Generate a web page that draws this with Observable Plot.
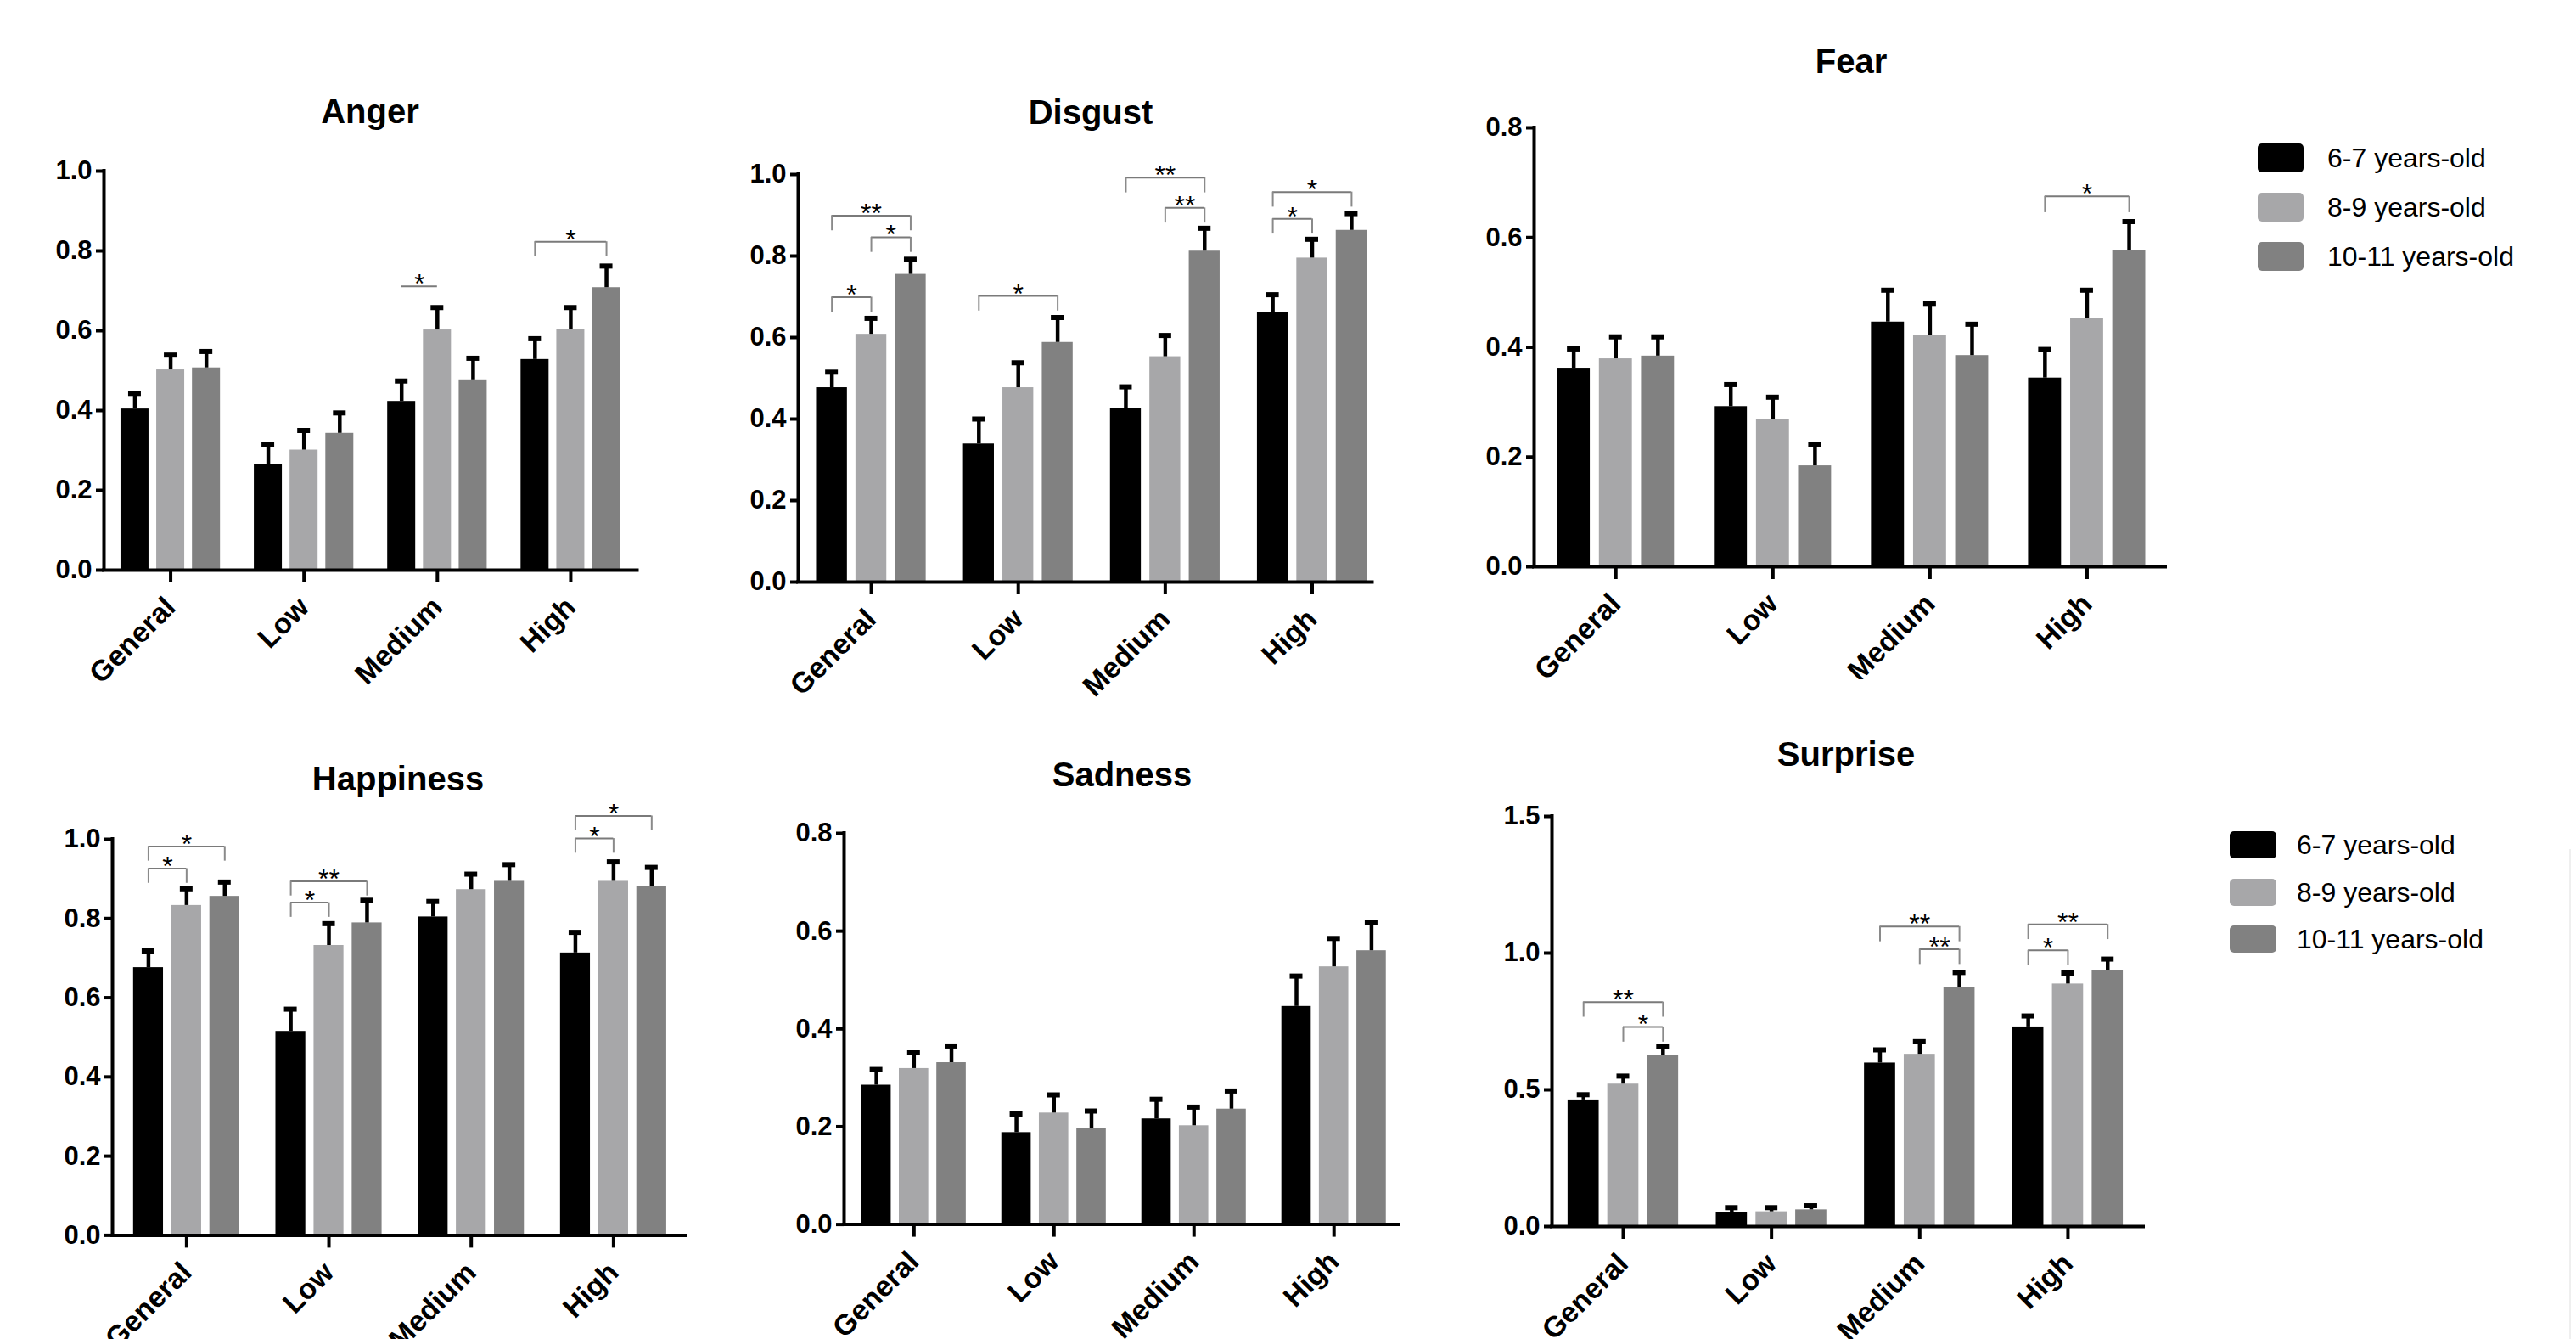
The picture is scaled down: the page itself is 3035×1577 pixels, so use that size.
<!DOCTYPE html>
<html>
<head>
<meta charset="utf-8">
<script src="https://cdn.jsdelivr.net/npm/d3@7"></script>
<script src="https://cdn.jsdelivr.net/npm/@observablehq/plot@0.6"></script>
<style>
html, body { margin: 0; padding: 0; background: #fff; width: 3035px; height: 1577px; overflow: hidden; }
#root { position: relative; width: 3035px; height: 1577px; font-family: "Liberation Sans", Arial, sans-serif; color: #000; }
.panel { position: absolute; }
.title { position: absolute; font-weight: bold; font-size: 40px; transform: translate(-50%, -50%); white-space: nowrap; }
.legend { position: absolute; }
.legend .row { position: absolute; display: flex; align-items: center; white-space: nowrap; }
.legend .sw { border-radius: 5px; }
.legend .lab { font-size: 32px; }
#edge { position: absolute; left: 3027px; top: 1000px; width: 2px; height: 577px; background: #efefef; }
</style>
</head>
<body>
<div id="root"><div id="edge"></div></div>
<script>
// ---------- data ----------
const categories = ["General", "Low", "Medium", "High"];
const groups = ["6-7 years-old", "8-9 years-old", "10-11 years-old"];
const groupColors = ["#000000", "#a7a7a9", "#818181"];

// means[category][group] and standard errors (upper error bar length)
const angerMean = [[0.404, 0.502, 0.507], [0.265, 0.301, 0.343], [0.423, 0.602, 0.477], [0.528, 0.603, 0.708]];
const angerErr  = [[0.039, 0.037, 0.041], [0.049, 0.049, 0.051], [0.051, 0.056, 0.054], [0.052, 0.055, 0.054]];
const disgustMean = [[0.477, 0.608, 0.755], [0.339, 0.477, 0.588], [0.427, 0.553, 0.812], [0.662, 0.795, 0.863]];
const disgustErr  = [[0.038, 0.039, 0.037], [0.061, 0.061, 0.061], [0.052, 0.052, 0.056], [0.043, 0.046, 0.041]];
const fearMean = [[0.362, 0.379, 0.384], [0.292, 0.269, 0.184], [0.446, 0.421, 0.385], [0.344, 0.453, 0.577]];
const fearErr  = [[0.035, 0.040, 0.035], [0.040, 0.040, 0.039], [0.058, 0.059, 0.057], [0.052, 0.051, 0.052]];
const happinessMean = [[0.676, 0.833, 0.856], [0.515, 0.732, 0.789], [0.804, 0.873, 0.894], [0.713, 0.894, 0.880]];
const happinessErr  = [[0.042, 0.042, 0.036], [0.056, 0.055, 0.057], [0.039, 0.039, 0.042], [0.052, 0.049, 0.049]];
const sadnessMean = [[0.285, 0.319, 0.331], [0.188, 0.228, 0.196], [0.216, 0.202, 0.236], [0.446, 0.527, 0.560]];
const sadnessErr  = [[0.032, 0.032, 0.034], [0.038, 0.037, 0.036], [0.040, 0.038, 0.037], [0.062, 0.058, 0.057]];
const surpriseMean = [[0.463, 0.521, 0.627], [0.051, 0.054, 0.061], [0.598, 0.630, 0.875], [0.730, 0.887, 0.937]];
const surpriseErr  = [[0.019, 0.029, 0.030], [0.018, 0.015, 0.015], [0.048, 0.046, 0.054], [0.040, 0.040, 0.041]];

// significance brackets: [category, fromGroup, toGroup, lineValue, label, legs]
const angerSig = [[2, 0, 1, 0.711, "*", 0], [3, 0, 2, 0.823, "*", 1]];
const disgustSig = [[0, 0, 1, 0.699, "*", 1], [0, 0, 2, 0.899, "**", 1], [0, 1, 2, 0.846, "*", 1], [1, 0, 2, 0.702, "*", 1],
                    [2, 0, 2, 0.992, "**", 1], [2, 1, 2, 0.918, "**", 1], [3, 0, 2, 0.957, "*", 1], [3, 0, 1, 0.891, "*", 1]];
const fearSig = [[3, 0, 2, 0.675, "*", 1]];
const happinessSig = [[0, 0, 2, 0.982, "*", 1], [0, 0, 1, 0.926, "*", 1], [1, 0, 2, 0.894, "**", 1], [1, 0, 1, 0.840, "*", 1],
                      [3, 0, 2, 1.059, "*", 1], [3, 0, 1, 1.002, "*", 1]];
const sadnessSig = [];
const surpriseSig = [[0, 0, 2, 0.821, "**", 1], [0, 1, 2, 0.730, "*", 1], [2, 0, 2, 1.097, "**", 1], [2, 1, 2, 1.014, "**", 1],
                     [3, 0, 2, 1.105, "**", 1], [3, 0, 1, 1.010, "*", 1]];

// y-axis tick values
const ticks10 = [0, 0.2, 0.4, 0.6, 0.8, 1.0];
const ticks08 = [0, 0.2, 0.4, 0.6, 0.8];
const ticks15 = [0, 0.5, 1.0, 1.5];

// ---------- layout ----------
const STEP = 0.268, BW = 0.21;
const ML = 90, MR = 20, MT = 90, MB = 190;

const panels = [
  {title: "Anger", mean: angerMean, err: angerErr, sig: angerSig, yMax: 1.0, ticks: ticks10,
   L: 121.5, R: 750, T: 201, B: 671, xLo: -0.5, xHi: 3.5, tx: 436, ty: 131},
  {title: "Disgust", mean: disgustMean, err: disgustErr, sig: disgustSig, yMax: 1.0, ticks: ticks10,
   L: 939.5, R: 1616, T: 205, B: 685, xLo: -0.497, xHi: 3.41, tx: 1285, ty: 132},
  {title: "Fear", mean: fearMean, err: fearErr, sig: fearSig, yMax: 0.8, ticks: ticks08,
   L: 1807, R: 2551, T: 150, B: 667, xLo: -0.52, xHi: 3.5, tx: 2181, ty: 72, clipBottom: 800},
  {title: "Happiness", mean: happinessMean, err: happinessErr, sig: happinessSig, yMax: 1.0, ticks: ticks10,
   L: 131.7, R: 807.6, T: 988, B: 1454.4, xLo: -0.521, xHi: 3.51, tx: 469, ty: 917},
  {title: "Sadness", mean: sadnessMean, err: sadnessErr, sig: sadnessSig, yMax: 0.8, ticks: ticks08,
   L: 993.6, R: 1646.7, T: 981, B: 1441.6, xLo: -0.499, xHi: 3.46, tx: 1322, ty: 912},
  {title: "Surprise", mean: surpriseMean, err: surpriseErr, sig: surpriseSig, yMax: 1.5, ticks: ticks15,
   L: 1828, R: 2525, T: 961, B: 1444, xLo: -0.481, xHi: 3.51, tx: 2175, ty: 888}
];

const root = document.getElementById("root");
const xOf = (cat, g) => cat + (g - 1) * STEP;

for (const p of panels) {
  const fw = p.R - p.L, fh = p.B - p.T;
  const unit = fw / (p.xHi - p.xLo);
  const CAP = 7.5 / unit;
  const rows = [];
  p.mean.forEach((row, i) => row.forEach((v, j) => rows.push({cat: i, g: j, group: groups[j], x: xOf(i, j), v, top: v + p.err[i][j]})));
  const legDepth = 0.037 * p.yMax;
  const brackets = p.sig.map(([c, g1, g2, y, label, legs]) => ({x1: xOf(c, g1), x2: xOf(c, g2), y, label, legs, ylo: y - legDepth}));
  const legs = brackets.filter(d => d.legs).flatMap(d => [{x: d.x1, y1: d.ylo, y2: d.y}, {x: d.x2, y1: d.ylo, y2: d.y}]);

  const chart = Plot.plot({
    width: ML + fw + MR,
    height: MT + fh + MB,
    marginLeft: ML, marginRight: MR, marginTop: MT, marginBottom: MB,
    style: {fontFamily: "'Liberation Sans', Arial, sans-serif", color: "#000", background: "transparent", overflow: "visible"},
    x: {domain: [p.xLo, p.xHi], axis: null},
    y: {domain: [0, p.yMax], axis: null},
    color: {domain: groups, range: groupColors},
    marks: [
      Plot.rectY(rows, {x1: d => d.x - BW / 2, x2: d => d.x + BW / 2, y1: 0, y2: "v", fill: "group"}),
      Plot.ruleX(rows, {x: "x", y1: "v", y2: "top", stroke: "#000", strokeWidth: 4.5}),
      Plot.ruleY(rows, {y: "top", x1: d => d.x - CAP, x2: d => d.x + CAP, stroke: "#000", strokeWidth: 6}),
      Plot.ruleY(brackets, {y: "y", x1: "x1", x2: "x2", stroke: "#7a7a7a", strokeWidth: 2}),
      Plot.ruleX(legs, {x: "x", y1: "y1", y2: "y2", stroke: "#8a8a8a", strokeWidth: 2}),
      Plot.text(brackets, {x: d => (d.x1 + d.x2) / 2, y: "y", text: "label", fontSize: 32, lineAnchor: "bottom", dy: 8, fill: "#000"}),
      Plot.ruleY([0], {stroke: "#000", strokeWidth: 4, strokeLinecap: "square"}),
      Plot.ruleX([p.xLo], {y1: 0, y2: p.yMax, stroke: "#000", strokeWidth: 4, strokeLinecap: "square"}),
      Plot.axisY({ticks: p.ticks, tickFormat: d3.format(".1f"), tickSize: 9, tickPadding: 5, fontSize: 31, fontWeight: "bold", strokeWidth: 4, anchor: "left"}),
      Plot.axisX({ticks: [0, 1, 2, 3], tickFormat: i => categories[i], tickRotate: -45, tickSize: 15, tickPadding: 23, fontSize: 34, fontWeight: "bold", strokeWidth: 4, anchor: "bottom"})
    ]
  });
  const wrap = document.createElement("div");
  wrap.className = "panel";
  const left = p.L - ML, top = p.T - MT;
  wrap.style.left = left + "px";
  wrap.style.top = top + "px";
  if (p.clipBottom) {
    wrap.style.height = (p.clipBottom - top) + "px";
    wrap.style.overflow = "hidden";
  }
  wrap.appendChild(chart);
  root.appendChild(wrap);

  const t = document.createElement("div");
  t.className = "title";
  t.textContent = p.title;
  t.style.left = p.tx + "px";
  t.style.top = p.ty + "px";
  root.appendChild(t);
}

// ---------- legends ----------
function legend(x, rowsY, swW, swH, textX) {
  const lg = document.createElement("div");
  lg.className = "legend";
  lg.style.left = "0px"; lg.style.top = "0px";
  groups.forEach((g, i) => {
    const r = document.createElement("div");
    r.className = "row";
    r.style.left = x + "px";
    r.style.top = (rowsY[i] - swH / 2) + "px";
    r.style.height = swH + "px";
    const sw = document.createElement("div");
    sw.className = "sw";
    sw.style.width = swW + "px"; sw.style.height = swH + "px";
    sw.style.background = groupColors[i];
    const lab = document.createElement("div");
    lab.className = "lab";
    lab.style.marginLeft = (textX - x - swW) + "px";
    lab.textContent = g;
    r.appendChild(sw); r.appendChild(lab);
    lg.appendChild(r);
  });
  root.appendChild(lg);
}
legend(2660, [186, 244, 302], 54, 34, 2742);
legend(2627, [995, 1051, 1106], 55, 32, 2706);
</script>
</body>
</html>
